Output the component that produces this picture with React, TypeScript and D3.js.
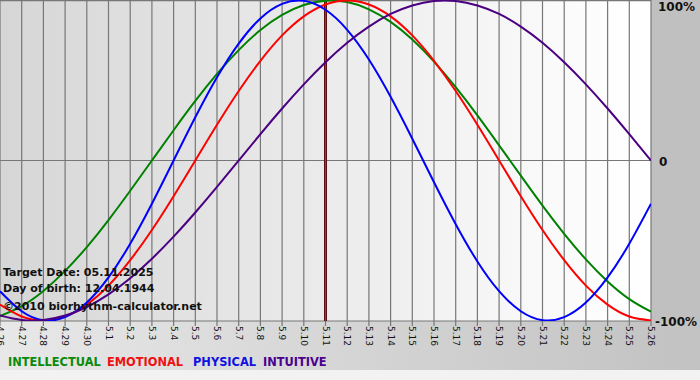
import React from "react";
import * as d3 from "d3";

const dayLabels = ["4.26","4.27","4.28","4.29","4.30","5.1","5.2","5.3","5.4","5.5","5.6","5.7","5.8","5.9","5.10","5.11","5.12","5.13","5.14","5.15","5.16","5.17","5.18","5.19","5.20","5.21","5.22","5.23","5.24","5.25","5.26"];

const physical = [-0.817,-0.942,-0.998,-0.979,-0.888,-0.731,-0.52,-0.27,0,0.27,0.52,0.731,0.888,0.979,0.998,0.942,0.817,0.631,0.398,0.136,-0.136,-0.398,-0.631,-0.817,-0.942,-0.998,-0.979,-0.888,-0.731,-0.52,-0.27];
const emotional = [-0.901,-0.975,-1,-0.975,-0.901,-0.782,-0.623,-0.434,-0.223,0,0.223,0.434,0.623,0.782,0.901,0.975,1,0.975,0.901,0.782,0.623,0.434,0.223,0,-0.223,-0.434,-0.623,-0.782,-0.901,-0.975,-1];
const intellectual = [-0.972,-0.91,-0.815,-0.69,-0.541,-0.372,-0.189,0,0.189,0.372,0.541,0.69,0.815,0.91,0.972,0.999,0.99,0.945,0.866,0.756,0.618,0.458,0.282,0.095,-0.095,-0.282,-0.458,-0.618,-0.756,-0.866,-0.945];
const intuitive = [-0.969,-0.997,-0.997,-0.969,-0.916,-0.837,-0.736,-0.614,-0.476,-0.325,-0.165,0,0.165,0.325,0.476,0.614,0.736,0.837,0.916,0.969,0.997,0.997,0.969,0.916,0.837,0.736,0.614,0.476,0.325,0.165,0];

const targetIndex = 15;
const yTickValues = [1, 0, -1];
const yTickLabels = ["100%", "0", "-100%"];

const seriesList = [
  { name: "INTELLECTUAL", values: intellectual, color: "#008000", legend: "#0a8a0a" },
  { name: "EMOTIONAL", values: emotional, color: "#ff0000", legend: "#ee1111" },
  { name: "PHYSICAL", values: physical, color: "#0000ff", legend: "#1010e0" },
  { name: "INTUITIVE", values: intuitive, color: "#4b0082", legend: "#4b0090" },
];

const infoLines = ["Target Date: 05.11.2025", "Day of birth: 12.04.1944", "©2010 biorhythm-calculator.net"];

export default function App() {
  const W = 700, H = 380;
  const plotRight = 651;
  const plotBottom = 321;
  const x = d3.scaleLinear().domain([0, dayLabels.length - 1]).range([0, plotRight]);
  const y = d3.scaleLinear().domain([-1, 1]).range([320.5, 0.5]);
  const mk = (vals: number[]) =>
    d3.line<number>().x((_, i) => x(i)).y((v) => y(v)).curve(d3.curveNatural)(vals) || "";
  const font = "Verdana, 'DejaVu Sans', sans-serif";
  const legendX = [8, 107, 193, 263];

  return (
    <svg width={W} height={H} style={{ position: "absolute", left: 0, top: 0, display: "block" }} fontFamily={font}>
      <defs>
        <linearGradient id="plotBg" x1="0" x2="1" y1="0" y2="0">
          <stop offset="0" stopColor="#d6d6d6" />
          <stop offset="0.9" stopColor="#fcfcfc" />
          <stop offset="1" stopColor="#ffffff" />
        </linearGradient>
        <linearGradient id="bottomBg" x1="0" x2="1" y1="0" y2="0">
          <stop offset="0" stopColor="#e8e8e8" />
          <stop offset="1" stopColor="#c2c2c2" />
        </linearGradient>
        <clipPath id="plotClip">
          <rect x={0} y={0} width={plotRight} height={plotBottom} />
        </clipPath>
      </defs>
      <rect x={0} y={0} width={W} height={H} fill="#c0c0c0" />
      <rect x={0} y={plotBottom} width={W} height={H - plotBottom} fill="url(#bottomBg)" />
      <rect x={0} y={370} width={W} height={10} fill="#f2f2f2" />
      <rect x={0} y={0} width={plotRight} height={plotBottom} fill="url(#plotBg)" />
      {dayLabels.map((_, i) => (
        <line key={"g" + i} x1={x(i)} x2={x(i)} y1={0} y2={plotBottom + 5} stroke="#777" strokeWidth={1.2} />
      ))}
      <line x1={0} x2={plotRight} y1={0.5} y2={0.5} stroke="#777" strokeWidth={1.5} />
      <line x1={0} x2={plotRight} y1={y(0)} y2={y(0)} stroke="#777" strokeWidth={1.2} />
      <line x1={0} x2={plotRight} y1={plotBottom} y2={plotBottom} stroke="#777" strokeWidth={1} />
      <line x1={x(targetIndex)} x2={x(targetIndex)} y1={0} y2={plotBottom} stroke="#5a1010" strokeWidth={3} />
      <line x1={x(targetIndex)} x2={x(targetIndex)} y1={0} y2={plotBottom} stroke="#b03030" strokeWidth={1} />
      <g clipPath="url(#plotClip)">
        {seriesList.map((s) => (
          <path key={s.name} d={mk(s.values)} fill="none" stroke={s.color} strokeWidth={2} />
        ))}
      </g>
      {dayLabels.map((lab, i) => (
        <text key={"t" + i} transform={`translate(${x(i)},${plotBottom + 5}) rotate(90)`} fontSize={9} fill="#111" dominantBaseline="central">
          {lab}
        </text>
      ))}
      {yTickValues.map((v, i) => (
        <text key={"y" + i} x={i === 2 ? 655 : i === 1 ? 659 : 658} y={i === 0 ? 7 : y(v) + 1} fontSize={12} fontWeight="bold" fill="#111" dominantBaseline="central">
          {yTickLabels[i]}
        </text>
      ))}
      {infoLines.map((t, i) => (
        <text key={"i" + i} x={3} y={[276, 292, 310][i]} fontSize={11} fontWeight="bold" fill="#111">
          {t}
        </text>
      ))}
      {seriesList.map((s, i) => (
        <text key={"l" + s.name} x={legendX[i]} y={366} fontSize={11.4} fontWeight="bold" fill={s.legend}>
          {s.name}
        </text>
      ))}
    </svg>
  );
}
